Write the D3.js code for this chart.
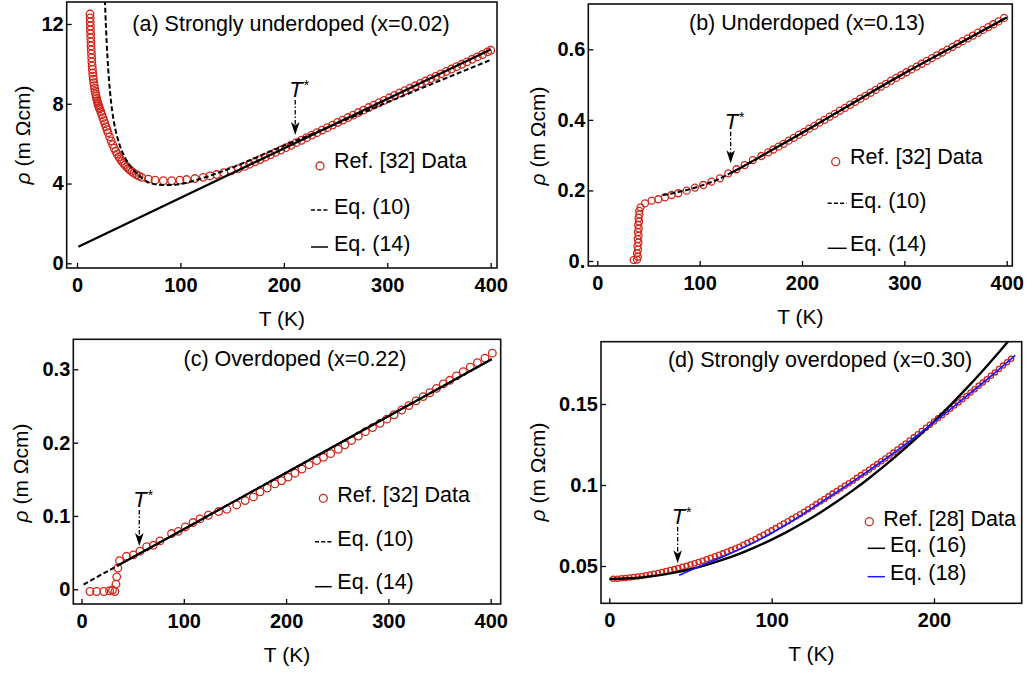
<!DOCTYPE html>
<html><head><meta charset="utf-8">
<script src="https://cdn.jsdelivr.net/npm/d3@7"></script>
<style>body{margin:0;background:#fff}svg{display:block}</style>
</head><body><svg id="c" width="1028" height="677"></svg>
<script>
// ---------------- DATA ----------------
// (a) Strongly underdoped x=0.02
const aT = [12.6,12.7,12.8,12.9,13.0,13.15,13.3,13.45,13.6,13.8,14.0,14.2,14.4,14.65,14.9,15.2,15.5,15.8,16.2,16.6,17,17.5,18,18.5,19,19.5,20,20.5,21,21.5,22,23,24,25,26,27,28,29,30,31.5,33,34.5,36,37.5,39,40.5,42,43.5,45,46.5,48,49.5,51,53,55,57.5,60,62.5,69,75.5,83.5,91.5,99.5,106,114,122,128.5,135,142,149,156,162,167,172,177,182,187,192,197,202,207,212,217,222,227,232,237,242,247,252,257,262,267,272,277,282,287,292,297,302,307,312,317,322,327,332,337,342,347,352,357,362,367,372,377,382,387,392,397,400];
const aR = [12.5,12.3,12.1,11.9,11.7,11.5,11.3,11.1,10.9,10.7,10.5,10.3,10.1,9.9,9.72,9.54,9.38,9.23,9.06,8.91,8.77,8.62,8.49,8.37,8.26,8.15,8.06,7.97,7.89,7.81,7.74,7.6,7.45,7.3,7.15,7.0,6.85,6.7,6.55,6.34,6.14,5.95,5.77,5.61,5.47,5.34,5.22,5.11,5.01,4.92,4.84,4.76,4.69,4.6,4.52,4.44,4.37,4.31,4.22,4.17,4.14,4.14,4.17,4.2,4.25,4.31,4.38,4.45,4.54,4.64,4.75,4.86,4.97,5.09,5.2,5.32,5.44,5.56,5.68,5.8,5.92,6.05,6.17,6.3,6.43,6.55,6.68,6.8,6.93,7.06,7.18,7.31,7.43,7.56,7.68,7.81,7.93,8.05,8.17,8.3,8.42,8.54,8.66,8.78,8.9,9.02,9.14,9.26,9.38,9.5,9.62,9.74,9.86,9.98,10.1,10.23,10.35,10.47,10.6,10.68];
const aEq10T = [27,28,29.5,31,32.5,34,36,38.5,41,45,50,55,60,67,75,85,95,105,115,125,135,150,165,185,200,220,250,300,350,400];
const aEq10R = [13.2,11.85,10.3,9.15,8.3,7.65,7.0,6.42,5.97,5.45,4.98,4.65,4.4,4.12,3.97,3.92,3.94,4.03,4.17,4.33,4.51,4.8,5.12,5.57,5.9,6.33,6.98,8.07,9.14,10.2];
const aEq14T = [1.3,400];
const aEq14R = [0.83,10.72];

// (b) Underdoped x=0.13
const bT = [35.6,38.8,39.6,38.9,39.8,39.2,40.2,39.5,40.4,39.7,40.5,39.9,40.8,40.3,41.2,41.0,42.3,46.6,53.1,59.6,66.1,72.6,79.1,87.3,95.4,103.5,111.6,119.8,128,136,144,152,160.4,167,172,177,182,187,192,197,202,207,212,217,222,227,232,237,242,247,252,257,262,267,272,277,282,287,292,297,302,307,312,317,322,327,332,337,342,347,352,357,362,367,372,377,382,387,392,397.5];
const bR = [0.003,0.004,0.012,0.022,0.032,0.042,0.052,0.062,0.072,0.082,0.092,0.102,0.112,0.122,0.132,0.142,0.152,0.1635,0.171,0.175,0.1805,0.187,0.192,0.1994,0.208,0.2154,0.225,0.2343,0.2485,0.26,0.272,0.286,0.2976,0.308,0.316,0.324,0.332,0.341,0.349,0.358,0.366,0.375,0.383,0.392,0.4,0.409,0.417,0.426,0.434,0.443,0.451,0.46,0.468,0.477,0.485,0.494,0.502,0.511,0.519,0.527,0.535,0.543,0.551,0.559,0.567,0.575,0.583,0.591,0.599,0.607,0.615,0.623,0.631,0.639,0.647,0.655,0.663,0.671,0.679,0.689];
const bEq10T = [64,80,100,120,130,140,160,200,250,300,350,400];
const bEq10R = [0.187,0.196,0.212,0.234,0.249,0.264,0.297,0.363,0.448,0.532,0.611,0.69];
const bEq14T = [130,140,160,200,250,300,350,400];
const bEq14R = [0.249,0.264,0.297,0.363,0.448,0.532,0.611,0.69];

// (c) Overdoped x=0.22
const cT = [8.3,14.8,21.9,27.5,30.3,32.6,33.7,34.4,35.5,37.2,44,50.7,57.2,63.7,70.2,76.7,88,94.6,101.5,109,115.8,124,134,142,151.7,160,168,174.5,181.5,189,195.5,202,208.7,215.5,222.5,229.9,236.5,243.5,251,257.5,264,270.6,277.5,284.5,291.8,298.5,305.5,313,320,327,334,340.5,347,353.7,360,366.5,373.2,380,387,394.4,401.6];
const cR = [-0.003,-0.003,-0.003,-0.002,-0.001,-0.003,0.007,0.017,0.029,0.039,0.045,0.047,0.052,0.058,0.06,0.066,0.076,0.079,0.085,0.091,0.096,0.101,0.106,0.109,0.115,0.121,0.126,0.133,0.138,0.1437,0.148,0.153,0.1583,0.164,0.17,0.1755,0.18,0.185,0.191,0.197,0.203,0.209,0.215,0.2205,0.2264,0.232,0.238,0.2445,0.2505,0.257,0.2628,0.268,0.274,0.28,0.285,0.291,0.2968,0.303,0.309,0.3151,0.322];
const cEq10T = [2,35,100,200,300,401];
const cEq10R = [0.0065,0.032,0.082,0.159,0.236,0.3138];
const cEq14T = [35,100,200,300,401];
const cEq14R = [0.032,0.082,0.159,0.236,0.3138];

// (d) Strongly overdoped x=0.30
const dT = [2.5,5,7.5,10,12.5,15,17.5,20,22.5,25,27.5,30,32.5,35,37.5,40,42.5,45,47.5,50,52.5,55,57.5,60,62.5,65,67.5,70,72.5,75,77.5,80,82.5,85,87.5,90,92.5,95,97.5,100,102.5,105,107.5,110,112.5,115,117.5,120,122.5,125,127.5,130,132.5,135,137.5,140,142.5,145,147.5,150,152.5,155,157.5,160,162.5,165,167.5,170,172.5,175,177.5,180,182.5,185,187.5,190,192.5,195,197.5,200,202.5,205,207.5,210,212.5,215,217.5,220,222.5,225,227.5,230,232.5,235,237.5,240,242.5,245,247.5];
const dR = [0.0421,0.0422,0.0424,0.0426,0.0429,0.0432,0.0435,0.0439,0.0443,0.0448,0.0452,0.0457,0.0463,0.0469,0.0475,0.0481,0.0488,0.0495,0.0502,0.0509,0.0517,0.0525,0.0533,0.0542,0.0551,0.0560,0.0569,0.0578,0.0588,0.0598,0.0608,0.0619,0.0631,0.0643,0.0655,0.0667,0.0680,0.0693,0.0707,0.0720,0.0734,0.0748,0.0762,0.0776,0.0791,0.0806,0.0820,0.0835,0.0851,0.0866,0.0882,0.0898,0.0914,0.0930,0.0947,0.0963,0.0979,0.0995,0.1011,0.1027,0.1044,0.1061,0.1077,0.1094,0.1112,0.1129,0.1147,0.1164,0.1182,0.1200,0.1219,0.1237,0.1256,0.1275,0.1294,0.1313,0.1333,0.1353,0.1372,0.1392,0.1412,0.1431,0.1451,0.1470,0.1490,0.1510,0.1530,0.1550,0.1571,0.1591,0.1612,0.1632,0.1653,0.1674,0.1695,0.1716,0.1737,0.1758,0.1779];
const dEq16T = [0,10,20,30,40,50,60,70,80,90,100,110,120,130,140,150,160,170,180,190,200,210,220,230,240,250];
const dEq16R = [0.042,0.04224,0.04297,0.04419,0.04589,0.04808,0.05075,0.05391,0.05755,0.06168,0.0663,0.0714,0.07699,0.08307,0.08963,0.09668,0.10421,0.11223,0.12073,0.12972,0.1392,0.14916,0.15961,0.17055,0.18197,0.19388];
const dEq18T = [43,50,60,70,80,90,100,110,120,130,140,150,160,170,180,190,200,210,220,230,240,250];
const dEq18R = [0.0443,0.0474,0.0517,0.0558,0.0602,0.0650,0.0703,0.0762,0.0825,0.0890,0.0956,0.1022,0.1090,0.1160,0.1233,0.1309,0.1388,0.1467,0.1548,0.1630,0.1714,0.1800];

// T* markers: temperature, arrow top value, arrow tip value
const starT   = [211, 130.3, 56.5, 42.1];
const starTop = [8.19, 0.3665, 0.108, 0.0741];
const starTip = [6.43, 0.277, 0.059, 0.0517];

// ticks
const xTicks400 = [0,100,200,300,400], xLabels400 = ["0","100","200","300","400"];
const dXTicks = [0,100,200], dXLabels = ["0","100","200"];
const aYTicks = [0,4,8,12], aYLabels = ["0","4","8","12"];
const bYTicks = [0,0.2,0.4,0.6], bYLabels = ["0.","0.2","0.4","0.6"];
const cYTicks = [0,0.1,0.2,0.3], cYLabels = ["0","0.1","0.2","0.3"];
const dYTicks = [0.05,0.1,0.15], dYLabels = ["0.05","0.1","0.15"];

const titles = ["(a) Strongly underdoped (x=0.02)","(b) Underdoped (x=0.13)","(c) Overdoped (x=0.22)","(d) Strongly overdoped (x=0.30)"];
const legAB = ["Ref. [32] Data","Eq. (10)","Eq. (14)"];
const legD = ["Ref. [28] Data","Eq. (16)","Eq. (18)"];

// ---------------- DRAW ----------------
const svg = d3.select("#c");
const FONT = "'Liberation Sans', Arial, Helvetica, sans-serif";
const RED = "#d0281c", BLUE = "#1a1aff";
const DASH = "5,2.6";

const panels = [
 {id:"a", xd:[0,400], xr:[77,490.7], yd:[0,12], yr:[263.3,24], box:[66.7,497,2,268],
  T:aT, R:aR, r:3.8, xt:xTicks400, xl:xLabels400, yt:aYTicks, yl:aYLabels,
  lines:[{T:aEq10T,R:aEq10R,c:"#000",w:2,dash:DASH},{T:aEq14T,R:aEq14R,c:"#000",w:2.2}],
  title:[291,31], ylab:[22.5,135],
  leg:{items:legAB, sym:["circle","dash","solid"], symX:320, lx:[311,328], tx:[334,334,334], by:[168,214,251], sy:[166,210,247], colors:["#000","#000"]}},
 {id:"b", xd:[0,400], xr:[597.3,1006.7], yd:[0,0.6], yr:[261,49.3], box:[588.3,1012.3,4,266],
  T:bT, R:bR, r:3.5, xt:xTicks400, xl:xLabels400, yt:bYTicks, yl:bYLabels,
  lines:[{T:bEq10T,R:bEq10R,c:"#000",w:2,dash:DASH},{T:bEq14T,R:bEq14R,c:"#000",w:2.2}],
  title:[807,30], ylab:[537.5,136],
  leg:{items:legAB, sym:["circle","dash","solid"], symX:835.7, lx:[827.7,846.7], tx:[850,850,850], by:[164,208,251], sy:[161.7,203.3,248.3], colors:["#000","#000"]}},
 {id:"c", xd:[0,400], xr:[81.5,490.7], yd:[0,0.3], yr:[589.3,369.3], box:[73.3,500.7,339.3,604],
  T:cT, R:cR, r:3.8, xt:xTicks400, xl:xLabels400, yt:cYTicks, yl:cYLabels,
  lines:[{T:cEq10T,R:cEq10R,c:"#000",w:2,dash:DASH},{T:cEq14T,R:cEq14R,c:"#000",w:2.2}],
  title:[295,366], ylab:[21,473],
  leg:{items:legAB, sym:["circle","dash","solid"], symX:323.3, lx:[315,331.7], tx:[337.3,337.3,337.3], by:[502,546,589], sy:[498.3,541.7,586.7], colors:["#000","#000"]}},
 {id:"d", xd:[0,200], xr:[609.3,934], yd:[0.05,0.15], yr:[566,404], box:[601,1021.7,341.7,603.3],
  T:dT, R:dR, r:2.6, xt:dXTicks, xl:dXLabels, yt:dYTicks, yl:dYLabels,
  lines:[{T:dEq16T,R:dEq16R,c:"#000",w:2.4},{T:dEq18T,R:dEq18R,c:BLUE,w:1.8}],
  title:[820,367], ylab:[538,472],
  leg:{items:legD, sym:["circle","solid","solid"], symX:869.3, lx:[867.7,885], tx:[883.3,890,890], by:[526,552,580], sy:[521.7,548.3,576.7], colors:["#000",BLUE]}}
];

const defs = svg.append("defs");

panels.forEach((p, i) => {
  const x = d3.scaleLinear().domain(p.xd).range(p.xr);
  const y = d3.scaleLinear().domain(p.yd).range(p.yr);
  const [L,R,T,B] = p.box;
  const g = svg.append("g");
  defs.append("clipPath").attr("id","clip"+p.id).append("rect")
    .attr("x",L).attr("y",T).attr("width",R-L).attr("height",B-T);
  const plot = g.append("g").attr("clip-path",`url(#clip${p.id})`);

  plot.append("g").selectAll("circle").data(d3.zip(p.T,p.R)).join("circle")
    .attr("cx",d=>x(d[0])).attr("cy",d=>y(d[1])).attr("r",p.r)
    .attr("fill","none").attr("stroke",RED).attr("stroke-width",1.3);

  const line = d3.line().x(d=>x(d[0])).y(d=>y(d[1])).curve(d3.curveMonotoneX);
  p.lines.forEach(l => {
    plot.append("path").datum(d3.zip(l.T,l.R)).attr("d",line)
      .attr("fill","none").attr("stroke",l.c).attr("stroke-width",l.w)
      .attr("stroke-dasharray",l.dash||null);
  });

  // axes
  const xa = g.append("g").attr("transform",`translate(0,${B})`)
    .call(d3.axisBottom(x).tickValues(p.xt).tickFormat((d,k)=>p.xl[k]).tickSize(-5).tickPadding(10));
  const ya = g.append("g").attr("transform",`translate(${L},0)`)
    .call(d3.axisLeft(y).tickValues(p.yt).tickFormat((d,k)=>p.yl[k]).tickSize(-5).tickPadding(3));
  [xa,ya].forEach(a=>{
    a.select(".domain").remove();
    a.selectAll("line").attr("stroke","#000").attr("stroke-width",1.3);
    a.selectAll("text").attr("font-family",FONT).attr("font-weight","bold").attr("font-size",20).attr("fill","#000");
  });

  g.append("rect").attr("x",L).attr("y",T).attr("width",R-L).attr("height",B-T)
    .attr("fill","none").attr("stroke","#111").attr("stroke-width",1.6);

  // axis titles
  g.append("text").attr("x",(L+R)/2).attr("y",B+58).attr("text-anchor","middle")
    .attr("font-family",FONT).attr("font-size",21).text("T (K)");
  const yl = g.append("text").attr("transform",`translate(${p.ylab[0]},${p.ylab[1]}) rotate(-90)`)
    .attr("text-anchor","middle").attr("dy","0.35em").attr("font-family",FONT).attr("font-size",21);
  yl.append("tspan").attr("font-style","italic").text("ρ");
  yl.append("tspan").text(" (m Ωcm)");

  // title
  g.append("text").attr("x",p.title[0]).attr("y",p.title[1]).attr("text-anchor","middle")
    .attr("font-family",FONT).attr("font-size",21.5).text(titles[i]);

  // legend
  const lg = p.leg;
  lg.items.forEach((txt,k)=>{
    g.append("text").attr("x",lg.tx[k]).attr("y",lg.by[k]).attr("font-family",FONT)
      .attr("font-size",21.5).text(txt);
    if (lg.sym[k]==="circle") {
      g.append("circle").attr("cx",lg.symX).attr("cy",lg.sy[k]).attr("r",4)
        .attr("fill","none").attr("stroke",RED).attr("stroke-width",1.3);
    } else {
      g.append("line").attr("x1",lg.lx[0]).attr("x2",lg.lx[1]).attr("y1",lg.sy[k]).attr("y2",lg.sy[k])
        .attr("stroke",lg.colors[k-1]).attr("stroke-width",1.5)
        .attr("stroke-dasharray",lg.sym[k]==="dash"?"4,2.2":null);
    }
  });

  // T* arrow
  const ax = x(starT[i]), ay0 = y(starTop[i]), ay1 = y(starTip[i]);
  g.append("line").attr("x1",ax).attr("x2",ax).attr("y1",ay0).attr("y2",ay1-9)
    .attr("stroke","#000").attr("stroke-width",1.3).attr("stroke-dasharray","4.5,2,1.5,2");
  g.append("path").attr("d",`M${ax},${ay1} L${ax-4.3},${ay1-13} L${ax},${ay1-9.5} L${ax+4.3},${ay1-13} Z`)
    .attr("fill","#000");
  const st = g.append("text").attr("x",ax-6).attr("y",ay0-3).attr("font-family",FONT).attr("font-size",22);
  st.append("tspan").attr("font-style","italic").text("T");
  st.append("tspan").attr("font-size",14).attr("dy",-7).attr("dx",1).text("*");
});
</script></body></html>
